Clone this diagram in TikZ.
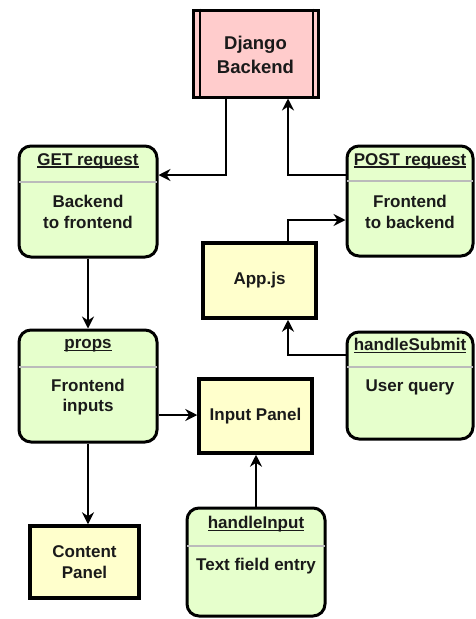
\documentclass[tikz,border=0pt]{standalone}
\usepackage{fontspec}
\setmainfont{Liberation Sans}
\usetikzlibrary{arrows.meta}
\definecolor{pinkfill}{HTML}{FFCCCC}
\definecolor{greenfill}{HTML}{E6FFCC}
\definecolor{yellowfill}{HTML}{FFFFCC}
\definecolor{sepgray}{HTML}{BBBBBB}
\definecolor{txt}{HTML}{1A1A1A}
\newcommand{\hdrtext}[1]{\setbox0\hbox{#1}\rlap{\rule[-2.6pt]{\wd0}{1.4pt}}\box0}
\begin{document}
\begin{tikzpicture}[x=1pt,y=-1pt,
  lane/.style={draw=black, line width=3pt, rounded corners=12pt, fill=greenfill, inner sep=0pt},
  plainbox/.style={draw=black, line width=3.5pt, fill=yellowfill, inner sep=0pt},
  lbl/.style={font=\fontsize{17}{20.5}\selectfont\bfseries, text=txt, align=center, inner sep=0pt},
  biglbl/.style={font=\fontsize{18.5}{24}\selectfont\bfseries, text=txt, align=center, inner sep=0pt},
  conn/.style={line width=1.8pt, -{Stealth[length=12pt,width=12pt,inset=4pt]}},
  sepline/.style={draw=sepgray, line width=1.5pt, shorten >=1.5pt, shorten <=1.5pt}]
\useasboundingbox (0,0) rectangle (475,619);

% Django backend
\node[draw=black, line width=3pt, fill=pinkfill, minimum width=125pt, minimum height=87pt, inner sep=0pt] (django) at (255.5,53.5) {};
\draw[line width=2pt] ([xshift=8pt]django.north west) -- ([xshift=8pt]django.south west);
\draw[line width=2pt] ([xshift=-7pt]django.north east) -- ([xshift=-7pt]django.south east);
\node[biglbl] (djangotxt) at (255.5,55) {Django\\Backend};

% GET request
\node[lane, minimum width=138pt, minimum height=111pt] (get) at (88,201.5) {};
\draw[sepline] (get.west |- 0,182) -- (get.east |- 0,182);
\node[lbl] (gethdr) at (88,161) {\hdrtext{GET request}};
\node[lbl] (getbody) at (88,212) {Backend\\to frontend};

% POST request
\node[lane, minimum width=126pt, minimum height=110pt] (post) at (410,201) {};
\draw[sepline] (post.west |- 0,181) -- (post.east |- 0,181);
\node[lbl] (posthdr) at (410,161) {\hdrtext{POST request}};
\node[lbl] (postbody) at (410,212) {Frontend\\to backend};

% App.js
\node[plainbox, minimum width=113pt, minimum height=75pt] (app) at (259.5,280.5) {};
\node[lbl] (apptxt) at (app.center) {App.js};

% props
\node[lane, minimum width=138pt, minimum height=112pt] (props) at (88,386) {};
\draw[sepline] (props.west |- 0,367) -- (props.east |- 0,367);
\node[lbl] (propshdr) at (88,346) {\hdrtext{props}};
\node[lbl] (propsbody) at (88,397) {Frontend\\inputs};

% handleSubmit
\node[lane, minimum width=126pt, minimum height=107pt] (hs) at (410,385.5) {};
\draw[sepline] (hs.west |- 0,367) -- (hs.east |- 0,367);
\node[lbl] (hshdr) at (410,346) {\hdrtext{handleSubmit}};
\node[lbl] (hsbody) at (410,387) {User query};

% Input Panel
\node[plainbox, minimum width=113pt, minimum height=74pt] (inp) at (255.5,416) {};
\node[lbl] (inptxt) at (inp.center) {Input Panel};

% handleInput
\node[lane, minimum width=138pt, minimum height=108pt] (hi) at (256,562) {};
\draw[sepline] (hi.west |- 0,546) -- (hi.east |- 0,546);
\node[lbl] (hihdr) at (256,524) {\hdrtext{handleInput}};
\node[lbl] (hibody) at (256,566) {Text field entry};

% Content Panel
\node[plainbox, minimum width=109pt, minimum height=72pt] (content) at (84.5,562) {};
\node[lbl] (contenttxt) at (content.center) {Content\\Panel};

% connectors
\draw[conn] (django.south -| 226,0) |- (get.east |- 0,175);
\draw[conn] (post.west |- 0,175) -| (django.south -| 288,0);
\draw[conn] (app.north -| 288,0) |- (post.west |- 0,220);
\draw[conn] (hs.west |- 0,355) -| (app.south -| 288,0);
\draw[conn] (get.south) -- (get.south |- props.north);
\draw[conn] (props.east |- 0,415) -- (inp.west |- 0,415);
\draw[conn] (props.south) -- (props.south |- content.north);
\draw[conn] (hi.north) -- (hi.north |- inp.south);
\end{tikzpicture}
\end{document}
